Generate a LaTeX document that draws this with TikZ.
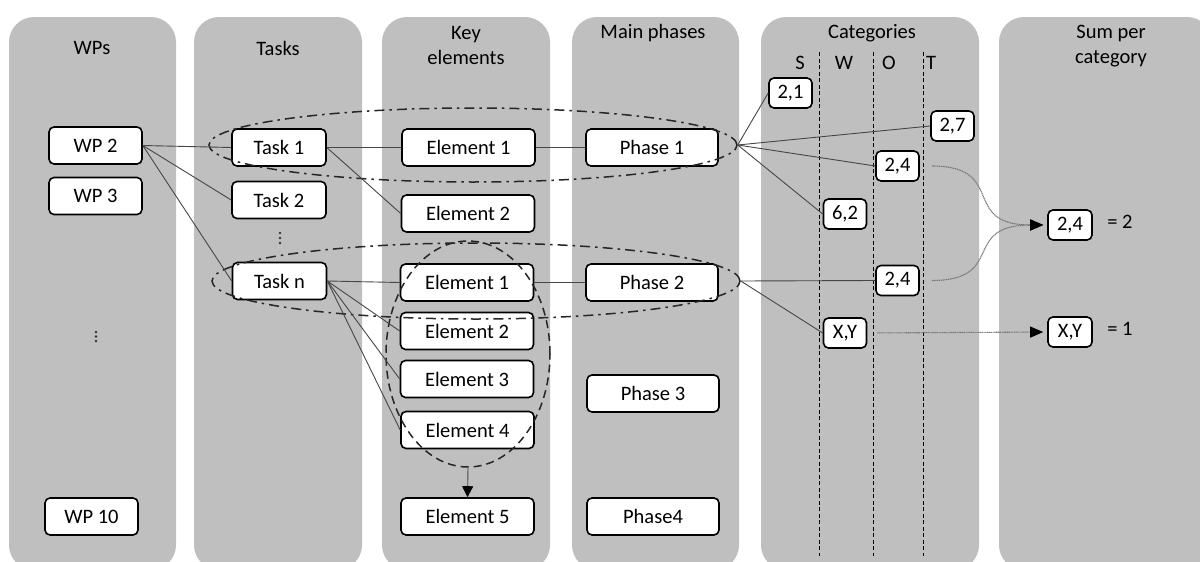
\documentclass[tikz,border=0pt]{standalone}
\usepackage{fontspec}
\setmainfont{Carlito}
\usetikzlibrary{arrows.meta,shapes.geometric}

\definecolor{lanegray}{RGB}{191,191,191}
\definecolor{linkgray}{RGB}{70,70,70}
\definecolor{flowgray}{RGB}{120,120,120}

\tikzset{
  lane/.style={fill=lanegray, rounded corners=25pt},
  head/.style={font=\fontsize{20.5}{25}\selectfont, align=center, inner sep=0pt},
  box/.style={draw=black, line width=1.6pt, fill=white, rounded corners=5pt,
              minimum height=37pt, inner sep=0pt, font=\fontsize{20.5}{24}\selectfont},
  wpbox/.style={box, minimum width=93pt},
  taskbox/.style={box, minimum width=94pt},
  elbox/.style={box, minimum width=133pt},
  phbox/.style={box, minimum width=132pt},
  valbox/.style={box, minimum width=43pt, minimum height=30pt},
  link/.style={draw=linkgray, line width=0.9pt},
  grpdashdot/.style={ellipse, draw=black!85, line width=1.5pt, inner sep=0pt,
                     dash pattern=on 10pt off 5pt on 2.5pt off 5pt},
  grpdashed/.style={ellipse, draw=black!85, line width=1.5pt, inner sep=0pt,
                    dash pattern=on 8pt off 5pt},
  flow/.style={draw=flowgray, line width=1.1pt, dash pattern=on 1.2pt off 0.6pt,
               -{Triangle[length=13pt,width=11pt,color=black]}},
  dotmark/.style={fill=black!80, circle, inner sep=0pt, minimum size=2.6pt},
  cut/.style={draw=black, line width=0.8pt, dash pattern=on 4pt off 2.5pt}
}

\begin{document}
\begin{tikzpicture}[x=1pt,y=-1pt]
\useasboundingbox (0,0) rectangle (1200,562);

% swim lanes
\begin{scope}
  \clip (0,0) rectangle (1200,562);
  \path[lane] (9,17)   rectangle (176,570);
  \path[lane] (194,17) rectangle (362,570);
  \path[lane] (382,17) rectangle (550,570);
  \path[lane] (572,17) rectangle (739,570);
  \path[lane] (761,17) rectangle (979,570);
  \path[lane] (999,17) rectangle (1212,570);
\end{scope}

% lane headings
\node[head] (hwp)   at (92,48)   {WPs};
\node[head] (htask) at (278,48)  {Tasks};
\node[head] (hkey)  at (466,45)  {Key\\elements};
\node[head] (hph)   at (653,33)  {Main phases};
\node[head] (hcat)  at (872,33)  {Categories};
\node[head] (hsum)  at (1111,46) {Sum per\\category};
\node[head] (hs) at (800,63) {S};
\node[head] (hw) at (844,63) {W};
\node[head] (ho) at (889,63) {O};
\node[head] (ht) at (931,63) {T};

% category separators
\coordinate (sep1top) at (819,52);  \coordinate (sep1bot) at (819,556);
\coordinate (sep2top) at (873,52);  \coordinate (sep2bot) at (873,556);
\coordinate (sep3top) at (923,52);  \coordinate (sep3bot) at (923,556);
\draw[cut] (sep1top) -- (sep1bot);
\draw[cut] (sep2top) -- (sep2bot);
\draw[cut] (sep3top) -- (sep3bot);

% work packages
\node[wpbox] (wp2)  at (95.5,145.5) {WP 2};
\node[wpbox] (wp3)  at (95.5,196)   {WP 3};
\node[wpbox] (wp10) at (91.5,516.5) {WP 10};
\node[dotmark] (wpd1) at (96,332) {};
\node[dotmark] (wpd2) at (96,336.5) {};
\node[dotmark] (wpd3) at (96,341) {};

% tasks
\node[taskbox] (t1) at (279,147.5) {Task 1};
\node[taskbox] (t2) at (279,200)   {Task 2};
\node[taskbox] (tn) at (279.5,281) {Task n};
\node[dotmark] (td1) at (280,233) {};
\node[dotmark] (td2) at (280,238) {};
\node[dotmark] (td3) at (280,243) {};

% key elements
\node[elbox] (e1) at (468.5,147.5) {Element 1};
\node[elbox] (e2) at (468,213.5)   {Element 2};
\node[elbox] (f1) at (467,282.5)   {Element 1};
\node[elbox] (f2) at (467,331)     {Element 2};
\node[elbox] (f3) at (467,379)     {Element 3};
\node[elbox] (f4) at (467.5,430)   {Element 4};
\node[elbox] (f5) at (467.5,516.5) {Element 5};

% main phases
\node[phbox] (p1) at (652,147.5) {Phase 1};
\node[phbox] (p2) at (652,282.5) {Phase 2};
\node[phbox] (p3) at (653,393.5) {Phase 3};
\node[phbox] (p4) at (653,516.5) {Phase4};

% category values
\node[valbox] (c21)  at (790.5,93)  {2,1};
\node[valbox] (c27)  at (952.5,126) {2,7};
\node[valbox] (c24a) at (897.5,166) {2,4};
\node[valbox] (c62)  at (845,214)   {6,2};
\node[valbox] (c24b) at (897.5,280.5) {2,4};
\node[valbox] (cxy)  at (845,333)   {X,Y};

% sums
\node[valbox, minimum width=44pt] (s24) at (1070,225) {2,4};
\node[valbox, minimum width=44pt] (sxy) at (1070,332) {X,Y};
\node[head] (eq2) at (1120,222) {= 2};
\node[head] (eq1) at (1120,329) {= 1};

% groupings
\node[grpdashdot, minimum width=528pt, minimum height=74pt] (g1) at (473,145) {};
\node[grpdashdot, minimum width=528pt, minimum height=76pt] (g2) at (476,281) {};
\node[grpdashed, minimum width=164pt, minimum height=226pt] (g3) at (468,354) {};

% links between lanes
\draw[link] (wp2.east) -- (t1.west);
\draw[link] (wp2.east) -- (t2.west);
\draw[link] (wp2.east) -- (tn.west);
\draw[link] (t1.east) -- (e1.west);
\draw[link] (t1.east) -- (e2.west);
\draw[link] (e1.east) -- (p1.west);
\draw[link] (tn.east) -- (f1.west);
\draw[link] (tn.east) -- (f2.west);
\draw[link] (tn.east) -- (f3.west);
\draw[link] (tn.east) -- (f4.west);
\draw[link] (f1.east) -- (p2.west);

\draw[link] (g1.east) -- (c21.west);
\draw[link] (g1.east) -- (c27.west);
\draw[link] (g1.east) -- (c24a.west);
\draw[link] (g1.east) -- (c62.west);
\draw[link] (g2.east) -- (c24b.west);
\draw[link] (g2.east) -- (cxy.west);

\draw[link, -{Triangle[length=11pt,width=11pt,color=black]}] (g3.south) -- (f5.north);

% summation flows
\draw[flow, shorten <=12pt, shorten >=4pt] (c24a.east) to[out=0,in=180,looseness=1.6] (s24.west);
\draw[flow, shorten <=12pt, shorten >=4pt] (c24b.east) to[out=0,in=180,looseness=1.6] (s24.west);
\draw[flow, shorten <=10pt, shorten >=4pt] (cxy.east) -- (sxy.west);
\end{tikzpicture}
\end{document}
